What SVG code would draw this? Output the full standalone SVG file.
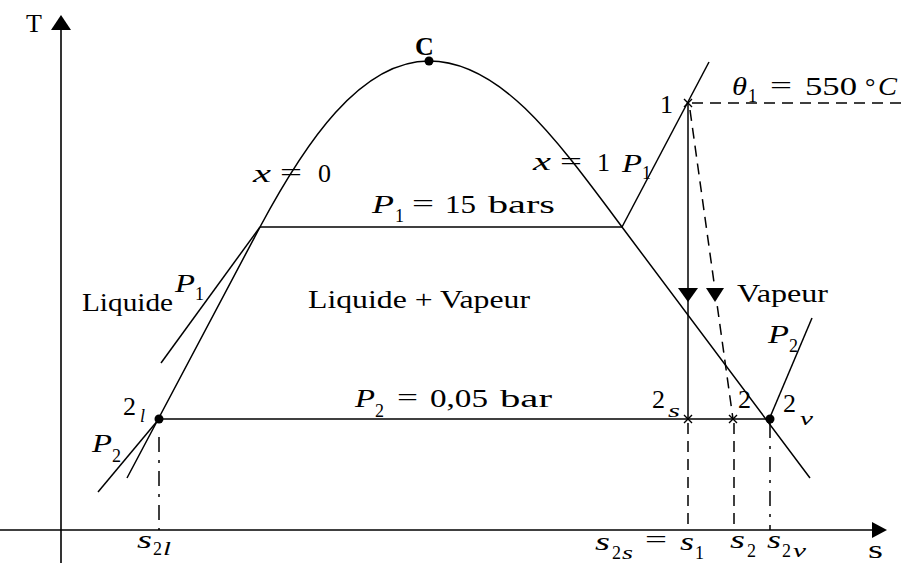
<svg xmlns="http://www.w3.org/2000/svg" width="902" height="565" viewBox="0 0 902 565">
<style>
text{font-family:"Liberation Serif","Times New Roman",serif;fill:#000;font-size:26px}
.i{font-style:italic}
.b{font-weight:bold}
.sub{font-size:18px}
.ln{fill:none;stroke:#000;stroke-width:1.5}
.ax{fill:none;stroke:#000;stroke-width:1.6}
.dash{fill:none;stroke:#000;stroke-width:1.5;stroke-dasharray:11,7}
.dd{fill:none;stroke:#000;stroke-width:1.5;stroke-dasharray:15,8,3,8}
.cross{fill:none;stroke:#000;stroke-width:1.4}
</style>
<rect width="902" height="565" fill="#fff"/>

<g id="axes">
  <line class="ax" x1="61" y1="28" x2="61" y2="563"/>
  <polygon points="61,15 51,30 71,30" fill="#000"/>
  <line class="ax" x1="0" y1="530" x2="874" y2="530"/>
  <polygon points="887,530 872,522 872,538" fill="#000"/>
  <text x="26" y="32" font-size="28">T</text>
  <text x="868" y="558" font-size="25" textLength="15" lengthAdjust="spacingAndGlyphs">s</text>
</g>

<g id="connectors">
  <path class="ln" d="M127,478 L260,227 C305,143 360,61 429,61 C500,61 555,137 622,227 L810,478"/>
  <line class="ln" x1="260" y1="227" x2="622" y2="227"/>
  <line class="ln" x1="260" y1="227" x2="161" y2="363"/>
  <line class="ln" x1="622" y1="227" x2="709" y2="62"/>
  <line class="ln" x1="159" y1="419" x2="770" y2="419"/>
  <line class="ln" x1="159" y1="419" x2="98" y2="492"/>
  <line class="ln" x1="768" y1="422" x2="812" y2="318"/>
  <line class="ln" x1="688" y1="103" x2="688" y2="419"/>
  <polygon points="678,288 698,288 688,302" fill="#000"/>
  <line class="dash" x1="690" y1="110" x2="733" y2="419"/>
  <polygon points="706,288 724,288 715,302" fill="#000"/>
  <line class="dash" x1="692" y1="103" x2="902" y2="103"/>
  <line class="dash" x1="688" y1="423" x2="688" y2="530"/>
  <line class="dash" x1="734" y1="423" x2="734" y2="530"/>
  <line class="dd" x1="770" y1="423" x2="770" y2="530"/>
  <line class="dd" x1="159" y1="437" x2="159" y2="530"/>
</g>

<g id="node-C">
  <circle cx="429" cy="61" r="4.5" fill="#000"/>
  <text class="b" x="415" y="55" font-size="24">C</text>
</g>

<g id="node-1">
  <path class="cross" d="M684,99 L692,107 M692,99 L684,107"/>
  <text x="660" y="113">1</text>
</g>

<g id="node-2l">
  <circle cx="159" cy="419" r="4.5" fill="#000"/>
  <text x="123" y="415">2</text>
  <text class="i sub" x="140" y="422">l</text>
</g>

<g id="node-2s">
  <path class="cross" d="M684,415 L692,423 M692,415 L684,423"/>
  <text x="652" y="408">2</text>
  <text class="i sub" x="668" y="417" textLength="12" lengthAdjust="spacingAndGlyphs">s</text>
</g>

<g id="node-2">
  <path class="cross" d="M729,415 L737,423 M737,415 L729,423"/>
  <text x="738" y="408">2</text>
</g>

<g id="node-2v">
  <circle cx="770" cy="419" r="4.5" fill="#000"/>
  <text x="783" y="412">2</text>
  <text class="i sub" x="800" y="425" textLength="13" lengthAdjust="spacingAndGlyphs">v</text>
</g>

<g id="labels">
  <text class="i" x="253" y="182" textLength="18" lengthAdjust="spacingAndGlyphs">x</text>
  <text x="280" y="181" textLength="22" lengthAdjust="spacingAndGlyphs">=</text>
  <text x="318" y="182" font-size="27">0</text>
  <text class="i" x="533" y="170" textLength="18" lengthAdjust="spacingAndGlyphs">x</text>
  <text x="560" y="170" textLength="22" lengthAdjust="spacingAndGlyphs">=</text>
  <text x="597" y="171">1</text>
  <text class="i" x="622" y="172" font-size="25" textLength="20" lengthAdjust="spacingAndGlyphs">P</text>
  <text class="sub" x="642" y="179">1</text>
  <text class="i" x="732" y="95" textLength="15" lengthAdjust="spacingAndGlyphs">θ</text>
  <text class="sub" x="748" y="102">1</text>
  <text x="770" y="94" textLength="22" lengthAdjust="spacingAndGlyphs">=</text>
  <text x="805" y="95" textLength="52" lengthAdjust="spacingAndGlyphs">550</text>
  <text x="865" y="95">°</text>
  <text class="i" x="878" y="95" textLength="19" lengthAdjust="spacingAndGlyphs">C</text>
  <text class="i" x="372" y="213" textLength="22" lengthAdjust="spacingAndGlyphs">P</text>
  <text class="sub" x="395" y="222">1</text>
  <text x="412" y="212" textLength="22" lengthAdjust="spacingAndGlyphs">=</text>
  <text x="445" y="213" textLength="31" lengthAdjust="spacingAndGlyphs">15</text>
  <text x="488" y="213" textLength="67" lengthAdjust="spacingAndGlyphs">bars</text>
  <text x="82" y="311" font-size="29" textLength="91" lengthAdjust="spacingAndGlyphs">Liquide</text>
  <text class="i" x="175" y="292" font-size="24" textLength="20" lengthAdjust="spacingAndGlyphs">P</text>
  <text class="sub" x="195" y="300" font-size="17">1</text>
  <text x="308" y="308" font-size="29" textLength="222" lengthAdjust="spacingAndGlyphs">Liquide + Vapeur</text>
  <text x="737" y="302" font-size="29" textLength="91" lengthAdjust="spacingAndGlyphs">Vapeur</text>
  <text class="i" x="768" y="343" font-size="24" textLength="21" lengthAdjust="spacingAndGlyphs">P</text>
  <text class="sub" x="789" y="352" font-size="17">2</text>
  <text class="i" x="92" y="452" font-size="24" textLength="20" lengthAdjust="spacingAndGlyphs">P</text>
  <text class="sub" x="112" y="462" font-size="17">2</text>
  <text class="i" x="355" y="407" font-size="24" textLength="20" lengthAdjust="spacingAndGlyphs">P</text>
  <text class="sub" x="375" y="417" font-size="17">2</text>
  <text x="397" y="406" textLength="21" lengthAdjust="spacingAndGlyphs">=</text>
  <text x="430" y="407" textLength="58" lengthAdjust="spacingAndGlyphs">0,05</text>
  <text x="500" y="407" textLength="52" lengthAdjust="spacingAndGlyphs">bar</text>
  <text class="i" x="137" y="548" textLength="15" lengthAdjust="spacingAndGlyphs">s</text>
  <text class="sub" x="153" y="555">2</text>
  <text class="i sub" x="163" y="555" textLength="8" lengthAdjust="spacingAndGlyphs">l</text>
  <text class="i" x="595" y="550" textLength="15" lengthAdjust="spacingAndGlyphs">s</text>
  <text class="sub" x="612" y="559">2</text>
  <text class="i sub" x="622" y="559" textLength="11" lengthAdjust="spacingAndGlyphs">s</text>
  <text x="645" y="548" textLength="22" lengthAdjust="spacingAndGlyphs">=</text>
  <text class="i" x="680" y="550" textLength="14" lengthAdjust="spacingAndGlyphs">s</text>
  <text class="sub" x="695" y="559">1</text>
  <text class="i" x="730" y="548" textLength="15" lengthAdjust="spacingAndGlyphs">s</text>
  <text class="sub" x="747" y="557">2</text>
  <text class="i" x="767" y="548" textLength="14" lengthAdjust="spacingAndGlyphs">s</text>
  <text class="sub" x="782" y="557">2</text>
  <text class="i sub" x="793" y="557" textLength="13" lengthAdjust="spacingAndGlyphs">v</text>
</g>
</svg>
